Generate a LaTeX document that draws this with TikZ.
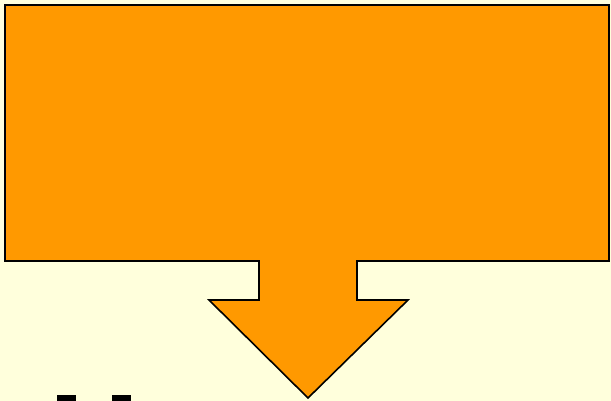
\documentclass[tikz,border=0pt]{standalone}
\usepackage{xcolor}
\usepackage{tikz}
\definecolor{callfill}{HTML}{FF9900}
\definecolor{slidebg}{HTML}{FFFFDC}

\begin{document}
\begin{tikzpicture}[x=1pt, y=-1pt,
            calloutl/.style={fill=callfill, draw=black, line width=1.6pt, line join=miter},
            glyphl/.style={fill=black}
        ]
        % achtergrond, 611 x 401
        \fill[slidebg] (0,0) rectangle (611,401);
        \useasboundingbox (0,0) rectangle (611,401);

        % =============== kader met pijl omlaag ===============
        \draw[calloutl] (5,5) -- (609,5) -- (609,261) -- (357,261) -- (357,300) --
            (408,300) -- (308,398) -- (209,300) -- (259,300) -- (259,261) --
            (5,261) -- cycle;

        % afgesneden letters onderaan
        \fill[glyphl] (57,394.5) rectangle (76,402);
        \fill[glyphl] (112,394.5) rectangle (131,402);
    \end{tikzpicture}
\end{document}
